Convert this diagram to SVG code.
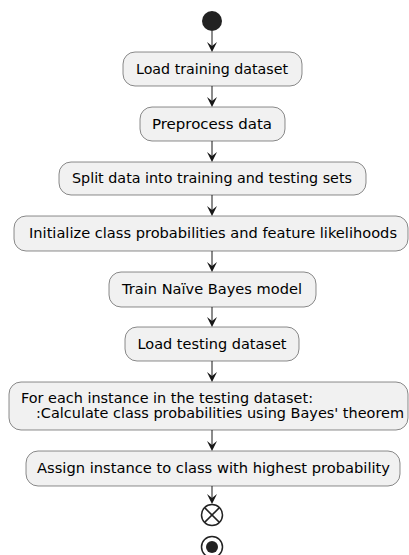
<svg xmlns="http://www.w3.org/2000/svg" width="409" height="555" viewBox="0 0 409 555">
<defs>
<style>
.box{fill:#F1F1F1;stroke:#181818;stroke-width:0.5}
.t{font-family:"DejaVu Sans",sans-serif;font-size:14px;fill:#000}
.ln{stroke:#181818;stroke-width:1;fill:none}
.ah{fill:#181818}
</style>
</defs>
<rect width="409" height="555" fill="#FFFFFF"/>
<g id="connectors">
<polygon class="ah" points="207,42 212,52 217,42 212,46"/><line class="ln" x1="212" y1="31" x2="212" y2="48"/>
<polygon class="ah" points="207,97 212,107 217,97 212,101"/><line class="ln" x1="212" y1="86" x2="212" y2="103"/>
<polygon class="ah" points="207,152 212,162 217,152 212,156"/><line class="ln" x1="212" y1="141" x2="212" y2="158"/>
<polygon class="ah" points="207,206 212,216 217,206 212,210"/><line class="ln" x1="212" y1="195" x2="212" y2="212"/>
<polygon class="ah" points="207,262 212,272 217,262 212,266"/><line class="ln" x1="212" y1="251" x2="212" y2="268"/>
<polygon class="ah" points="207,317 212,327 217,317 212,321"/><line class="ln" x1="212" y1="307" x2="212" y2="323"/>
<polygon class="ah" points="207,372 212,382 217,372 212,376"/><line class="ln" x1="212" y1="361" x2="212" y2="378"/>
<polygon class="ah" points="207,441 212,451 217,441 212,445"/><line class="ln" x1="212" y1="430" x2="212" y2="447"/>
<polygon class="ah" points="207,494 212,504 217,494 212,498"/><line class="ln" x1="212" y1="486" x2="212" y2="500"/>
</g>
<g id="start"><circle cx="212" cy="21" r="10" fill="#222222"/></g>
<g id="n1"><rect class="box" x="123" y="52" width="179" height="34" rx="12"/><text class="t" x="136" y="74" textLength="152" lengthAdjust="spacingAndGlyphs">Load training dataset</text></g>
<g id="n2"><rect class="box" x="140" y="107" width="145" height="34" rx="12"/><text class="t" x="152" y="129" textLength="120" lengthAdjust="spacingAndGlyphs">Preprocess data</text></g>
<g id="n3"><rect class="box" x="59" y="162" width="307" height="33" rx="12"/><text class="t" x="72" y="183" textLength="280" lengthAdjust="spacingAndGlyphs">Split data into training and testing sets</text></g>
<g id="n4"><rect class="box" x="14" y="216" width="394" height="35" rx="12"/><text class="t" x="29" y="238" textLength="368" lengthAdjust="spacingAndGlyphs">Initialize class probabilities and feature likelihoods</text></g>
<g id="n5"><rect class="box" x="109" y="272" width="207" height="35" rx="12"/><text class="t" x="122" y="294" textLength="180" lengthAdjust="spacingAndGlyphs">Train Naïve Bayes model</text></g>
<g id="n6"><rect class="box" x="125" y="327" width="174" height="34" rx="12"/><text class="t" x="137.5" y="349" textLength="149" lengthAdjust="spacingAndGlyphs">Load testing dataset</text></g>
<g id="n7"><rect class="box" x="9" y="382" width="399" height="48" rx="12"/><text class="t" x="21" y="403" textLength="292" lengthAdjust="spacingAndGlyphs">For each instance in the testing dataset:</text><text class="t" x="36" y="418" textLength="368" lengthAdjust="spacingAndGlyphs">:Calculate class probabilities using Bayes' theorem</text></g>
<g id="n8"><rect class="box" x="26" y="451" width="374" height="35" rx="12"/><text class="t" x="37" y="473" textLength="353" lengthAdjust="spacingAndGlyphs">Assign instance to class with highest probability</text></g>
<g id="stopx"><circle cx="212" cy="515" r="10.5" fill="#FFFFFF" stroke="#222222" stroke-width="1.5"/><line x1="204.6" y1="507.6" x2="219.4" y2="522.4" stroke="#222222" stroke-width="1.5"/><line x1="219.4" y1="507.6" x2="204.6" y2="522.4" stroke="#222222" stroke-width="1.5"/></g>
<g id="end"><circle cx="212" cy="547" r="10.5" fill="#FFFFFF" stroke="#222222" stroke-width="1.5"/><circle cx="212" cy="547" r="6" fill="#222222"/></g>
</svg>
